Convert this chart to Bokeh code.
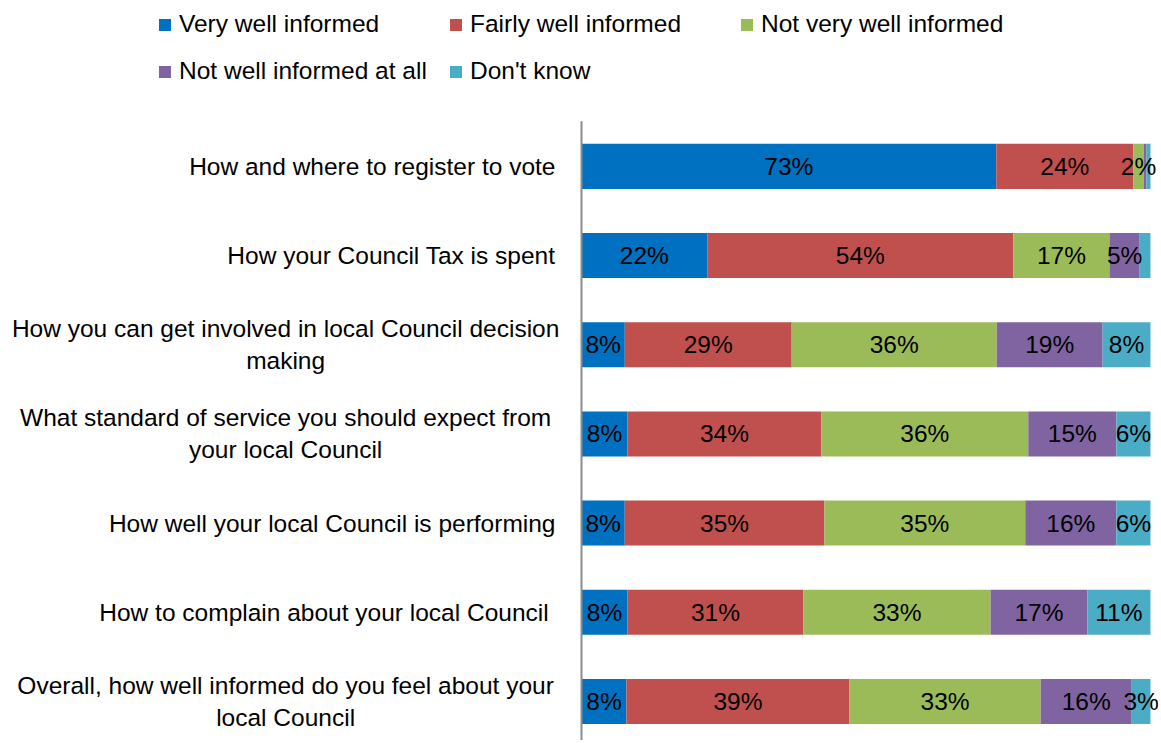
from bokeh.plotting import figure
from bokeh.models import Range1d, Legend, LegendItem, Label, LabelSet, ColumnDataSource
from bokeh.core.properties import value
from bokeh.embed import file_html
from bokeh.resources import INLINE

# ---- data ----
categories = [
    ["How and where to register to vote"],
    ["How your Council Tax is spent"],
    ["How you can get involved in local Council decision", "making"],
    ["What standard of service you should expect from", "your local Council"],
    ["How well your local Council is performing"],
    ["How to complain about your local Council "],
    ["Overall, how well informed do you feel about your", "local Council"],
]
series = ["Very well informed", "Fairly well informed", "Not very well informed",
          "Not well informed at all", "Don't know"]
colors = ["#0070C0", "#C0504D", "#9BBB59", "#8064A2", "#4BACC6"]

very_well = [72.9, 22.1, 7.6, 8.1, 7.6, 8.1, 7.9]
fairly_well = [24.1, 53.8, 29.3, 34.1, 35.1, 30.9, 39.2]
not_very = [1.8, 16.9, 36.0, 36.4, 35.3, 32.9, 33.6]
not_at_all = [0.5, 5.3, 18.6, 15.5, 16.0, 17.0, 16.0]
dont_know = [0.7, 1.9, 8.4, 6.0, 6.0, 11.1, 3.3]

lab_very_well = ["73%", "22%", "8%", "8%", "8%", "8%", "8%"]
lab_fairly_well = ["24%", "54%", "29%", "34%", "35%", "31%", "39%"]
lab_not_very = ["2%", "17%", "36%", "36%", "35%", "33%", "33%"]
lab_not_at_all = ["", "5%", "19%", "15%", "16%", "17%", "16%"]
lab_dont_know = ["", "", "8%", "6%", "6%", "11%", "3%"]

values = [very_well, fairly_well, not_very, not_at_all, dont_know]
labels = [lab_very_well, lab_fairly_well, lab_not_very, lab_not_at_all, lab_dont_know]

FONT = "Liberation Sans"
FS = "24.5px"
LFS = "24.5px"

n = len(categories)
rows = list(range(n))
totals = [sum(v[i] for v in values) for i in rows]

# whole canvas is the frame; x in percent, axis at 0
p = figure(width=1158, height=740, output_backend="svg", toolbar_location=None,
           x_range=Range1d(-102.11, 101.41), y_range=Range1d(6.438, -1.860),
           min_border=0)
p.outline_line_color = None
p.xgrid.visible = False
p.ygrid.visible = False
p.xaxis.visible = False
p.yaxis.visible = False

cum = [0.0] * n
items = []
for s, vals, labs, col in zip(series, values, labels, colors):
    left = [cum[i] for i in rows]
    right = [cum[i] + vals[i] / totals[i] * 100 for i in rows]
    cum = right
    src = ColumnDataSource(dict(y=rows, left=left, right=right,
                                mid=[(a + b) / 2 for a, b in zip(left, right)],
                                txt=labs))
    r = p.hbar(y="y", left="left", right="right", height=0.505, source=src,
               fill_color=col, line_color=None)
    items.append(LegendItem(label=s, renderers=[r]))
    p.add_layout(LabelSet(x="mid", y="y", text="txt", source=src, text_align="center",
                          text_baseline="middle", text_font=value(FONT),
                          text_font_size=value(FS), text_color="black"))

# vertical category axis line
p.segment(x0=[0], y0=[-0.505], x1=[0], y1=[6.438], line_color="#8c8c8c", line_width=2)

# category labels (left of the axis)
right_edge = -4.57
block_center = -52.0
line_off = 0.18
for i, lines in enumerate(categories):
    if len(lines) == 1:
        p.add_layout(Label(x=right_edge, y=i, text=lines[0], text_align="right",
                           text_baseline="middle", text_font=FONT, text_font_size=FS,
                           text_color="black"))
    else:
        for k, t in enumerate(lines):
            p.add_layout(Label(x=block_center, y=i + (k - 0.5) * 2 * line_off, text=t,
                               text_align="center", text_baseline="middle",
                               text_font=FONT, text_font_size=FS, text_color="black"))

# legend laid out column by column: reorder so rows read left to right
legend_order = [0, 3, 1, 4, 2]
legend = Legend(items=[items[k] for k in legend_order], ncols=3, location=(157, 655),
                glyph_width=15, glyph_height=15, label_standoff=7,
                label_width=250, label_height=20, spacing=19, padding=0, margin=0,
                border_line_color=None, background_fill_alpha=0,
                label_text_font=FONT, label_text_font_size=LFS,
                label_text_color="black")
p.add_layout(legend, "center")

open("out.html", "w").write(file_html(p, INLINE))
